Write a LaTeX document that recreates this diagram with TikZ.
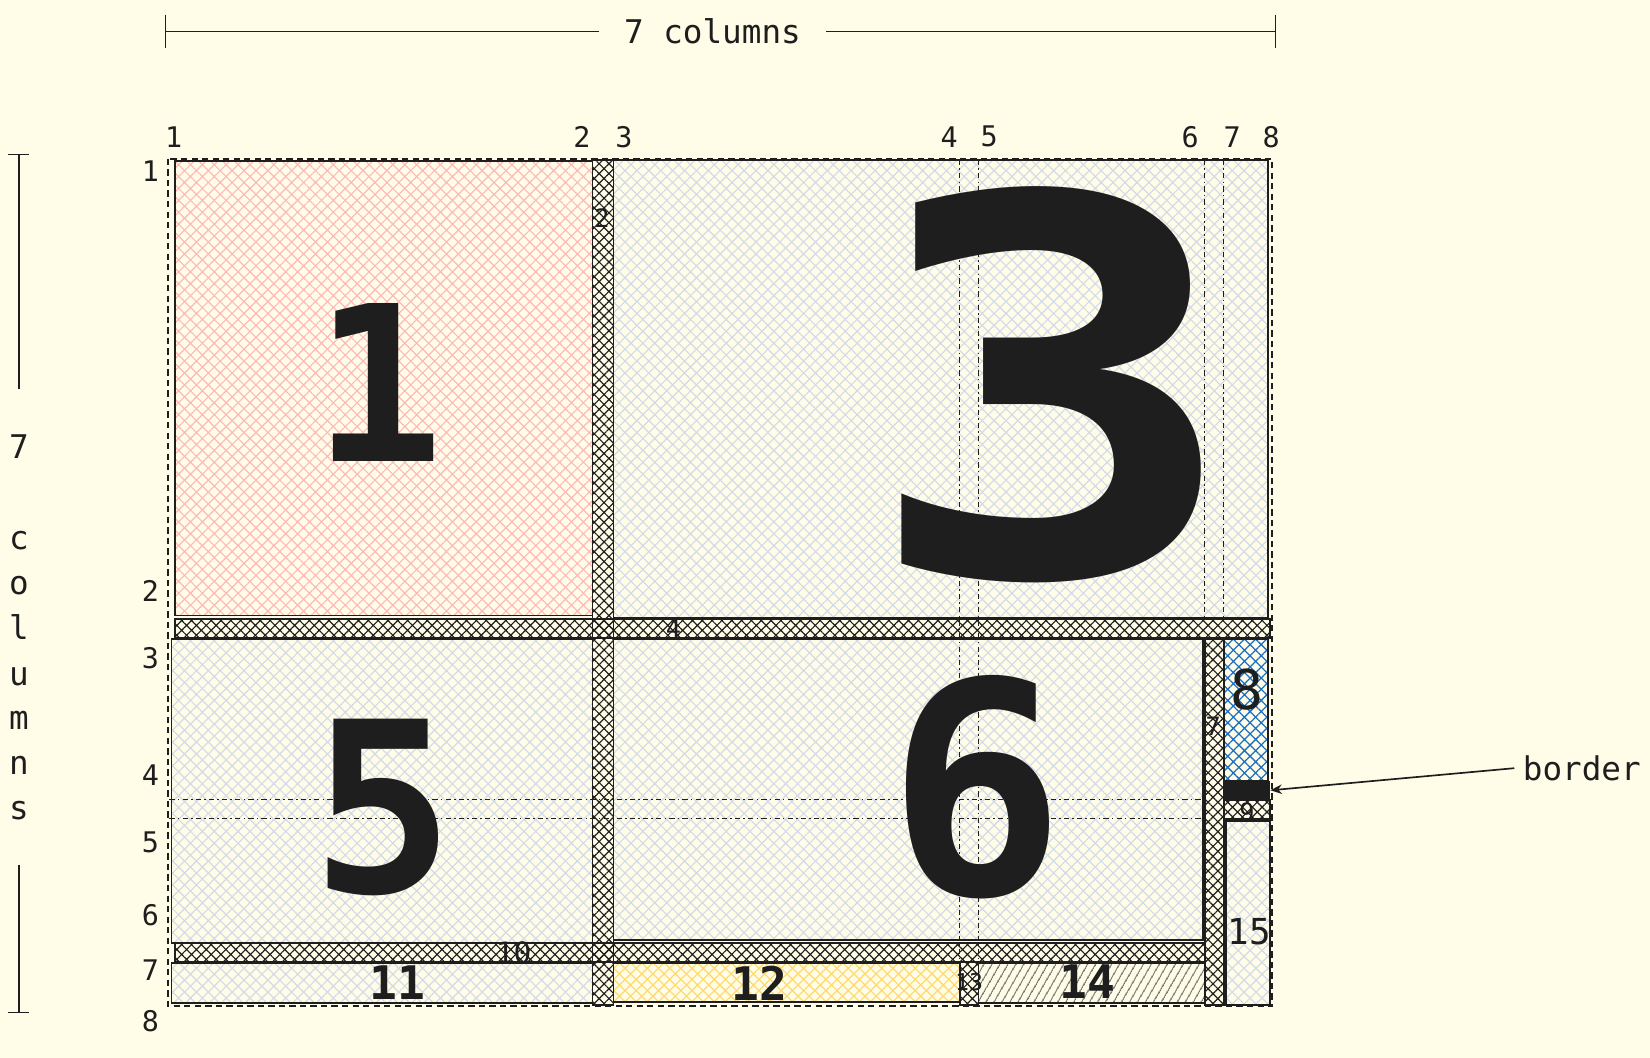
\documentclass[tikz,border=0pt]{standalone}
\usepackage{fontspec}
\setmainfont{DejaVu Sans}
\setmonofont{DejaVu Sans Mono}
\usetikzlibrary{patterns.meta,arrows.meta}
\definecolor{bg}{RGB}{255,253,232}
\definecolor{ink}{HTML}{1E1E1E}
\definecolor{hgray}{HTML}{D3DAE8}
\definecolor{hpink}{HTML}{FFB8B8}
\definecolor{hblue}{HTML}{1C6FC4}
\definecolor{hyellow}{HTML}{FFDA70}
\begin{document}
\begin{tikzpicture}[x=1pt,y=-1pt,
  lbl/.style={font=\ttfamily\fontsize{27}{27}\selectfont, text=ink, inner sep=0pt},
  tiny/.style={font=\ttfamily\fontsize{24}{24}\selectfont, text=ink, inner sep=0pt},
  bignum/.style={font=\ttfamily\bfseries\fontsize{#1}{#1}\selectfont, text=ink, inner sep=0pt},
  box/.style={draw=ink, line width=1.6pt},
  softx/.style={pattern={Hatch[angle=45,distance=8pt,line width=1.1pt]}, pattern color=hgray},
  pinkx/.style={pattern={Hatch[angle=45,distance=8pt,line width=1.1pt]}, pattern color=hpink},
  bluex/.style={pattern={Hatch[angle=45,distance=7.5pt,line width=1.2pt]}, pattern color=hblue},
  yellowx/.style={pattern={Hatch[angle=45,distance=7.5pt,line width=1.2pt]}, pattern color=hyellow},
  barx/.style={pattern={Hatch[angle=45,distance=6.6pt,line width=1.1pt]}, pattern color=ink},
  slashx/.style={pattern={Lines[angle=60,distance=6.5pt,line width=0.9pt]}, pattern color=ink},
  gridline/.style={draw=ink, line width=1.1pt, dash pattern=on 5pt off 3pt on 1.5pt off 3pt},
  outerline/.style={draw=ink, line width=1.8pt, dash pattern=on 6pt off 4pt},
  dimline/.style={draw=ink, line width=1.3pt},
  dimtext/.style={font=\ttfamily\fontsize{31}{31}\selectfont, text=ink, inner sep=0pt},
  arrowline/.style={draw=ink, line width=1.6pt, -{Stealth[length=11pt,width=9pt]}}
]
\fill[bg] (0,0) rectangle (1568,1005);
\useasboundingbox (0,0) rectangle (1568,1005);

% ---- fills of areas
\path[pinkx]   (166,153) rectangle (563,585);
\path[softx]   (583,152) rectangle (1205,587);
\path[softx]   (163,607) rectangle (563,896);
\path[softx]   (583,607) rectangle (1143,893);
\path[bluex]   (1163,607) rectangle (1205,742);
\path[softx]   (1165,780) rectangle (1207,955);
\path[softx]   (163,915) rectangle (563,953);
\path[yellowx] (583,915) rectangle (912,952);
\path[slashx]  (930,915) rectangle (1145,953);

% ---- gap bars (hatched)
\path[barx] (563,152) rectangle (583,955);
\path[barx] (166,588) rectangle (1207,606);
\path[barx] (1145,607) rectangle (1163,955);
\path[barx] (1163,760) rectangle (1207,778);
\path[barx] (166,896) rectangle (1145,914);
\path[barx] (912,914) rectangle (930,955);

% ---- outlines
\draw[box] (166,153) rectangle (563,585);
\draw[box] (583,152) rectangle (1205,587);
\draw[box] (163,607) rectangle (563,896);
\draw[box] (583,607) rectangle (1143,893);
\draw[box] (1163,607) rectangle (1205,742);
\draw[box] (1165,780) rectangle (1207,955);
\draw[box] (163,915) rectangle (563,953);
\draw[box] (583,915) rectangle (912,952);
\draw[box] (930,915) rectangle (1145,953);
\draw[box] (563,152) rectangle (583,955);
\draw[box] (166,588) rectangle (1207,606);
\draw[box] (1145,607) rectangle (1163,955);
\draw[box] (1163,760) rectangle (1207,778);
\draw[box] (166,896) rectangle (1145,914);
\draw[box] (912,914) rectangle (930,955);

% ---- border element
\node[fill=ink, inner sep=0pt, minimum width=44pt, minimum height=18pt] (brd) at (1185,751) {};

% ---- grid lines
\draw[gridline] (912,152) -- (912,955);
\draw[gridline] (930,152) -- (930,955);
\draw[gridline] (1145,152) -- (1145,587);
\draw[gridline] (1163,152) -- (1163,587);
\draw[gridline] (161,760) -- (1145,760);
\draw[gridline] (161,778) -- (1145,778);
\draw[outerline] (160,151) rectangle (1209,956);

% ---- big labels
\node[bignum=498, xscale=1.2] (n3) at (1000,366) {3};
\node[bignum=206] (n1) at (360,363) {1};
\node[bignum=226] (n5) at (364,767) {5};
\node[bignum=281] (n6) at (928,748) {6};
\node[bignum=44] (n11) at (378,934) {11};
\node[bignum=44] (n12) at (722,934) {12};
\node[bignum=44] (n14) at (1033,933) {14};
\node[font=\ttfamily\fontsize{52}{52}\selectfont, text=ink, inner sep=0pt] (n8) at (1185,655) {8};
\node[font=\ttfamily\fontsize{34}{34}\selectfont, text=ink, inner sep=0pt] (n15) at (1187,885) {15};
\node[tiny] (n2) at (572,207) {2};
\node[tiny] (n4) at (640,597) {4};
\node[tiny] (n7) at (1153,690) {7};
\node[tiny] (n9) at (1185,772) {9};
\node[font=\ttfamily\fontsize{28}{28}\selectfont, text=ink, inner sep=0pt] (n10) at (488,905) {10};
\node[font=\ttfamily\fontsize{22}{22}\selectfont, text=ink, inner sep=0pt] (n13) at (921,933) {13};

% ---- column labels
\node[lbl] (c1) at (165,130) {1};
\node[lbl] (c2) at (553,130) {2};
\node[lbl] (c3) at (593,130) {3};
\node[lbl] (c4) at (902,130) {4};
\node[lbl] (c5) at (940,130) {5};
\node[lbl] (c6) at (1131,130) {6};
\node[lbl] (c7) at (1171,130) {7};
\node[lbl] (c8) at (1208,130) {8};

% ---- row labels
\node[lbl] (r1) at (143,163) {1};
\node[lbl] (r2) at (143,562) {2};
\node[lbl] (r3) at (143,625) {3};
\node[lbl] (r4) at (143,737) {4};
\node[lbl] (r5) at (143,800) {5};
\node[lbl] (r6) at (143,870) {6};
\node[lbl] (r7) at (143,922) {7};
\node[lbl] (r8) at (143,970) {8};

% ---- top dimension
\node[dimtext, inner xsep=24pt] (dimtop) at (677,30) {7 columns};
\coordinate (tl) at (157,30);
\coordinate (tr) at (1212,30);
\draw[dimline] (tl) -- (dimtop.west);
\draw[dimline] (dimtop.east) -- (tr);
\draw[dimline] (157,14) -- (157,46);
\draw[dimline] (1212,14) -- (1212,46);

% ---- left dimension
\coordinate (lt) at (18,147);
\coordinate (lb) at (18,962);
\coordinate (lm1) at (18,370);
\coordinate (lm2) at (18,822);
\draw[dimline] (lt) -- (lm1);
\draw[dimline] (lm2) -- (lb);
\draw[dimline] (8,147) -- (28,147);
\draw[dimline] (8,962) -- (28,962);
\node[dimtext, anchor=base] (v7) at (18,436) {7};
\node[dimtext, anchor=base] (vc) at (18,522) {c};
\node[dimtext, anchor=base] (vo) at (18,565) {o};
\node[dimtext, anchor=base] (vl) at (18,608) {l};
\node[dimtext, anchor=base] (vu) at (18,651) {u};
\node[dimtext, anchor=base] (vm) at (18,693) {m};
\node[dimtext, anchor=base] (vn) at (18,736) {n};
\node[dimtext, anchor=base] (vs) at (18,779) {s};

% ---- border annotation
\node[dimtext, inner xsep=8pt, anchor=west] (bordlbl) at (1439,730) {border};
\draw[arrowline] (bordlbl.west) -- (brd.east);
\end{tikzpicture}
\end{document}
